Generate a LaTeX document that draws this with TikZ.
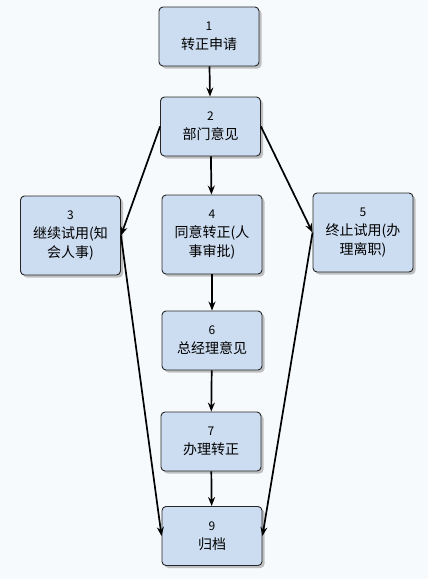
\documentclass[tikz,border=0pt]{standalone}
\usepackage{fontspec}
\setmainfont{Liberation Sans}
\newfontfamily\cjk{Noto Sans CJK SC}
\usetikzlibrary{arrows.meta,shadows}
\definecolor{bg}{HTML}{F7FAFD}
\definecolor{boxfill}{HTML}{CDDDF1}
\tikzset{
  stepbox/.style={draw=black!85, line width=0.9pt, fill=boxfill, rounded corners=4pt,
    minimum width=100pt, align=center, font=\cjk\fontsize{14}{19}\selectfont,
    drop shadow={shadow xshift=2.5pt, shadow yshift=-2.5pt, fill=black!40, opacity=0.6}},
  shortbox/.style={stepbox, minimum height=59pt},
  tallbox/.style={stepbox, minimum height=79pt},
  link/.style={line width=1.7pt, -{Stealth[length=9pt,width=7pt]}}
}
\newcommand\nm[1]{{\fontsize{12}{14}\selectfont #1}}
\begin{document}
\begin{tikzpicture}[x=1pt,y=-1pt]
\fill[bg] (0,0) rectangle (428,579);
\useasboundingbox (0,0) rectangle (428,579);
\node[shortbox] (n1) at (209,36.5) {\nm{1}\\转正申请};
\node[shortbox] (n2) at (210.5,126.5) {\nm{2}\\部门意见};
\node[tallbox] (n3) at (70.5,235.5) {\nm{3}\\继续试用(知\\会人事)};
\node[tallbox] (n4) at (212,234.5) {\nm{4}\\同意转正(人\\事审批)};
\node[tallbox] (n5) at (363,232.5) {\nm{5}\\终止试用(办\\理离职)};
\node[shortbox] (n6) at (212,340.5) {\nm{6}\\总经理意见};
\node[shortbox] (n7) at (211,441.5) {\nm{7}\\办理转正};
\node[shortbox] (n9) at (212,536) {\nm{9}\\归档};
\draw[link] (n1) -- (n2);
\draw[link] (n2) -- (n4);
\draw[link] (n2.west) -- (n3.east);
\draw[link] (n2.east) -- (n5.west);
\draw[link] (n4) -- (n6);
\draw[link] (n6) -- (n7);
\draw[link] (n7) -- (n9);
\draw[link] (n3.east) -- (n9.west);
\draw[link] (n5.west) -- (n9.east);
\end{tikzpicture}
\end{document}
